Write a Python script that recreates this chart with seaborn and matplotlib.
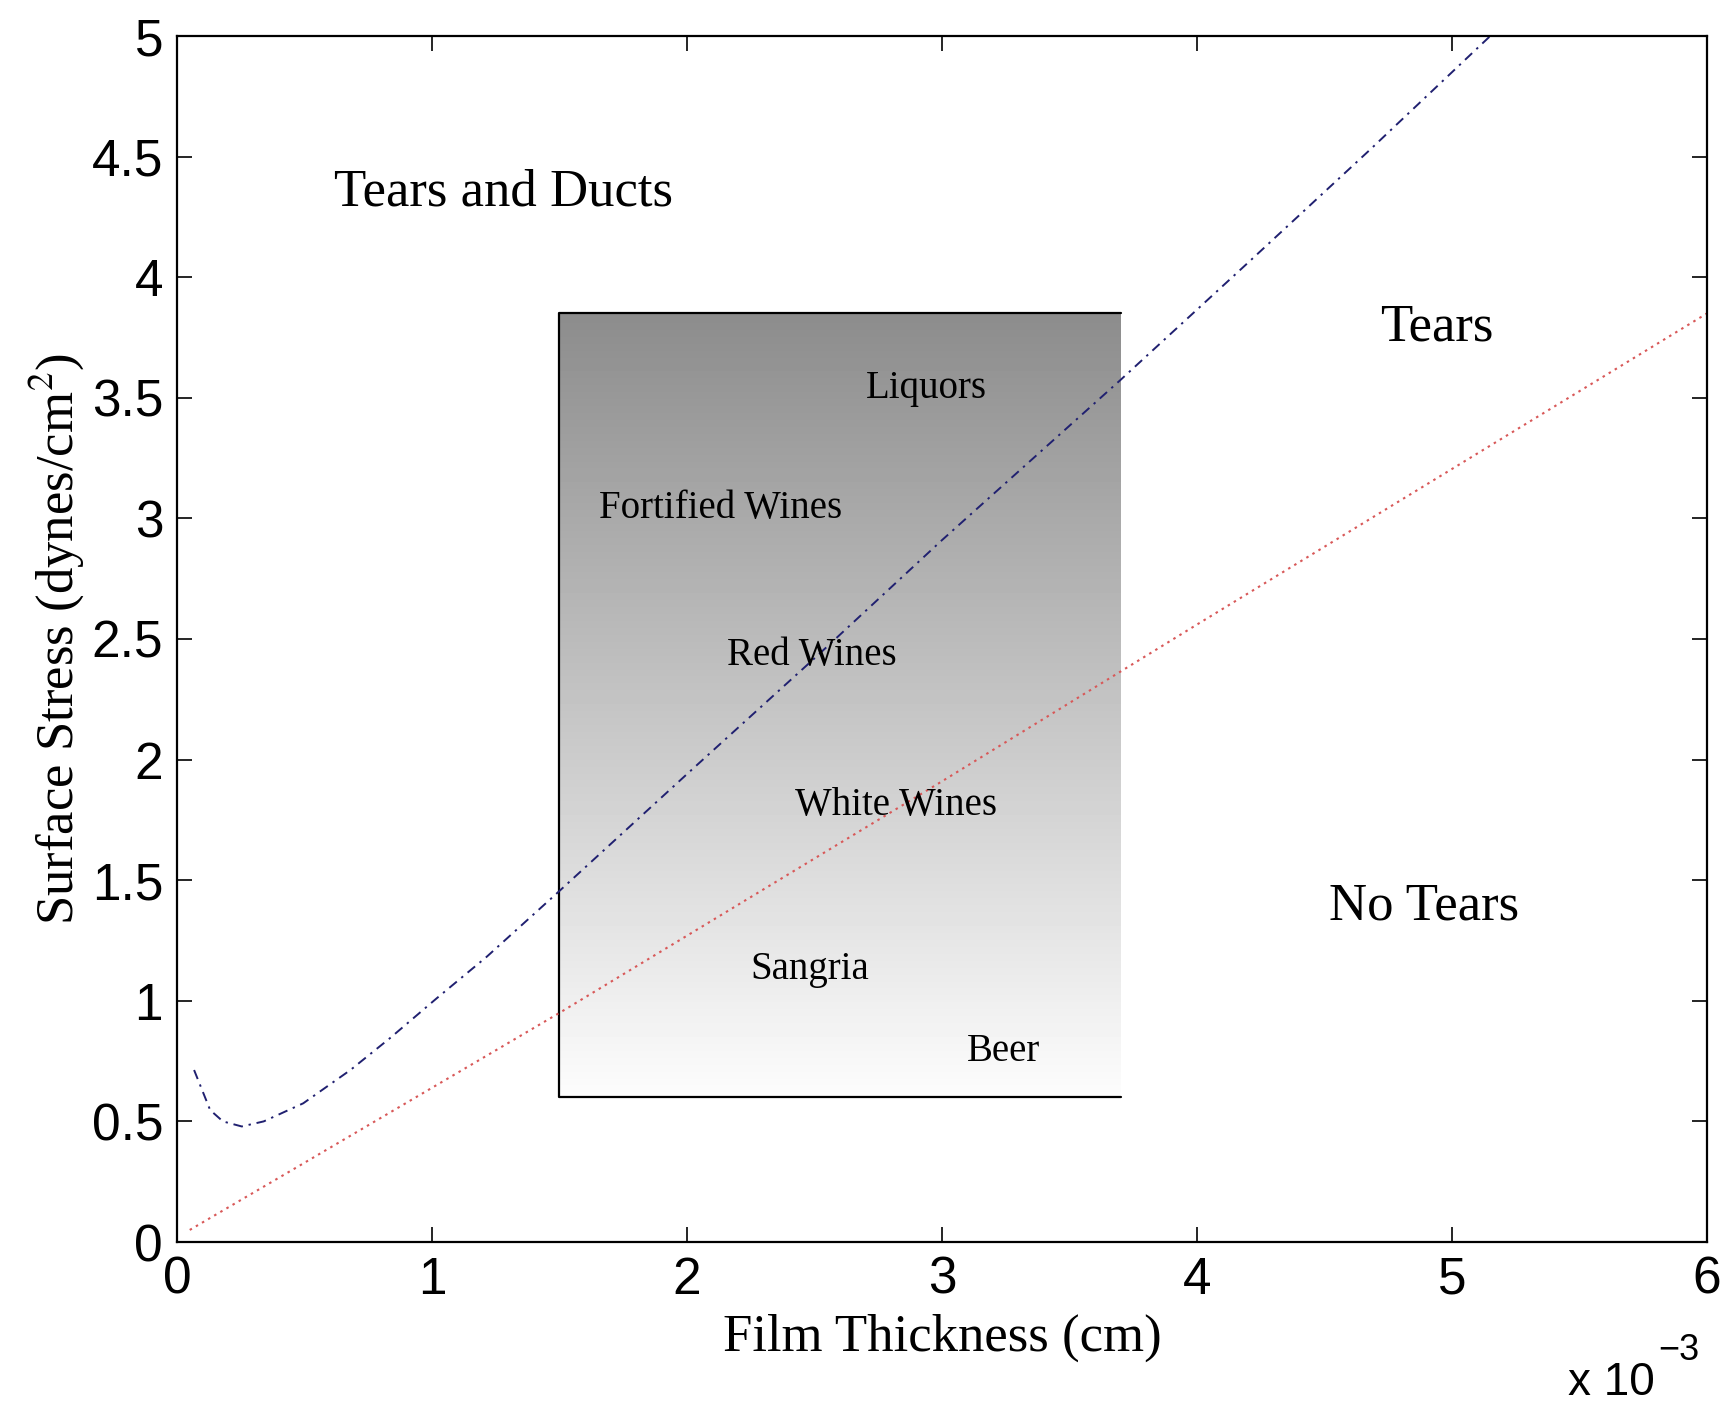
import numpy as np
import pandas as pd
import seaborn as sns
import matplotlib.pyplot as plt

sns.set_theme(style="white")
plt.rcParams['font.family'] = ['Liberation Serif', 'DejaVu Serif']
plt.rcParams['mathtext.fontset'] = 'stix'
plt.rcParams['text.color'] = 'black'
plt.rcParams['axes.labelcolor'] = 'black'

# film thickness in units of 1e-3 cm
upper_x = [0.067, 0.13, 0.18, 0.254, 0.34, 0.495, 0.68, 0.835, 1.018, 1.215,
           1.49, 2.0, 2.5, 3.0, 3.7, 4.2, 4.68, 5.15]
upper_y = [0.713, 0.547, 0.50, 0.479, 0.50, 0.575, 0.713, 0.845, 1.01, 1.183,
           1.446, 1.94, 2.42, 2.91, 3.574, 4.06, 4.53, 5.0]
lower_x = [0.05, 0.47, 1.5, 3.0, 4.0, 6.0]
lower_y = [0.05, 0.31, 0.95, 1.91, 2.56, 3.85]

# shaded "drinks" box
box_x = [1.5, 3.7]
box_y = [0.6, 3.85]

region_labels = ["Tears and Ducts", "Tears", "No Tears"]
region_x = [1.28, 4.94, 4.89]
region_y = [4.35, 3.79, 1.39]

drink_labels = ["Liquors", "Fortified Wines", "Red Wines", "White Wines", "Sangria", "Beer"]
drink_x = [2.94, 2.13, 2.49, 2.82, 2.48, 3.24]
drink_y = [3.54, 3.04, 2.43, 1.81, 1.13, 0.79]

xticks = [0, 1, 2, 3, 4, 5, 6]
yticks = [0, 0.5, 1, 1.5, 2, 2.5, 3, 3.5, 4, 4.5, 5]

fig = plt.figure(figsize=(17.3, 14.09), dpi=100)
ax = fig.add_axes([177/1730, 1-1242/1409, (1707-177)/1730, (1242-36)/1409])

# gradient fill of the box
grad = np.linspace(0.99, 0.55, 256)[:, None]
ax.imshow(grad, cmap='gray', vmin=0, vmax=1, origin='lower', aspect='auto',
          extent=[box_x[0], box_x[1], box_y[0], box_y[1]], zorder=0, interpolation='bilinear')
ax.plot([box_x[1], box_x[0], box_x[0], box_x[1]],
        [box_y[1], box_y[1], box_y[0], box_y[0]], color='black', lw=1.6, zorder=1)

up = pd.DataFrame({"x": upper_x, "y": upper_y})
lo = pd.DataFrame({"x": lower_x, "y": lower_y})
sns.lineplot(data=up, x="x", y="y", sort=False, ax=ax, color='#202070', lw=1.4,
             linestyle=(0, (5, 3, 1.2, 3)), zorder=2)
sns.lineplot(data=lo, x="x", y="y", sort=False, ax=ax, color='#d85858', lw=1.5,
             linestyle=(0, (1.2, 2.2)), zorder=2)

for t, x, y in zip(region_labels, region_x, region_y):
    ax.text(x, y, t, ha='center', va='center', fontsize=38, color='black')
for t, x, y in zip(drink_labels, drink_x, drink_y):
    ax.text(x, y, t, ha='center', va='center', fontsize=28, color='black')

ax.set_xlim(0, 6)
ax.set_ylim(0, 5)
ax.set_xticks(xticks)
ax.set_yticks(yticks)
ax.set_xticklabels([str(v) for v in xticks], family='Liberation Sans', fontsize=37)
ax.set_yticklabels(['0' if v == 0 else ('%g' % v) for v in yticks], family='Liberation Sans', fontsize=37)
ax.tick_params(direction='in', length=11, width=1.2, top=True, right=True,
               bottom=True, left=True, pad=10, colors='black')
for s in ax.spines.values():
    s.set_color('black')
    s.set_linewidth(1.6)

ax.set_xlabel("Film Thickness (cm)", fontsize=38, labelpad=6, color='black')
ax.set_ylabel("Surface Stress (dynes/cm$^2$)", fontsize=38, labelpad=4, color='black')

fig.text(1655/1730, 1-1395/1409, "x 10", family='Liberation Sans', fontsize=33,
         ha='right', va='baseline')
fig.text(1658/1730, 1-1360/1409, "\u22123", family='Liberation Sans', fontsize=26,
         ha='left', va='baseline')

fig.savefig("out.png", dpi=100)
